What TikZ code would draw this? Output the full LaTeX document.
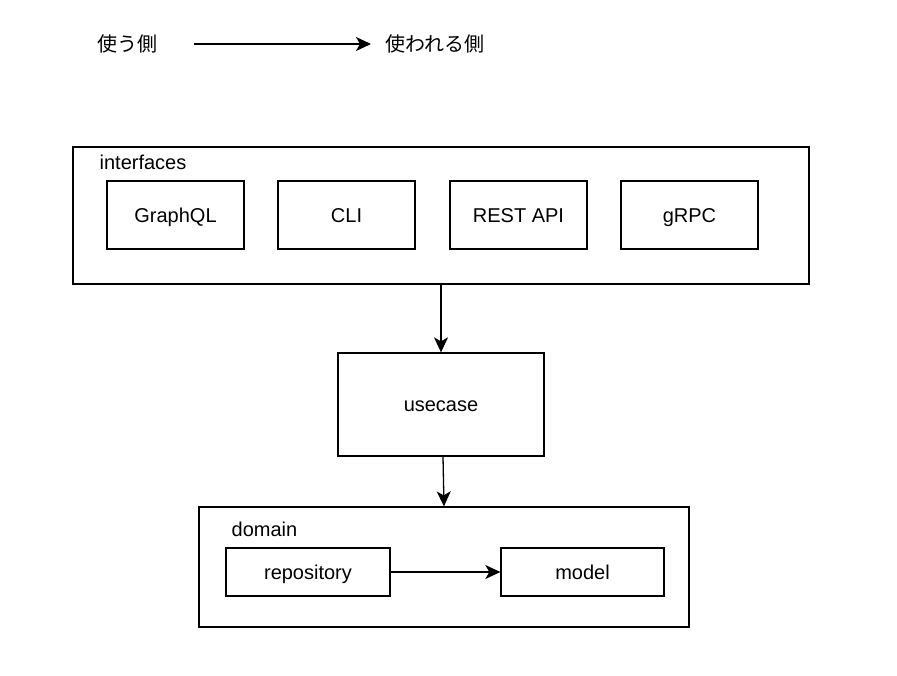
\documentclass[tikz,border=0pt]{standalone}
\usepackage{fontspec}
\setmainfont{Liberation Sans}
\newfontfamily\jpfont{Noto Sans CJK JP}
\usetikzlibrary{arrows.meta,positioning}

\begin{document}
\begin{tikzpicture}[x = 1pt, y = -1pt, line width = 1.3pt,
	every node/.style = {font = \fontsize{20}{24}\selectfont, inner sep = 0pt, text height = 14pt, text depth = 0pt},
	frame/.style = {draw, minimum width = #1},
	part/.style = {draw, minimum width = 137pt, minimum height = 68pt},
	label/.style = {anchor = west},
	uses/.style = {-{Stealth[length = 15pt, width = 14pt, inset = 4pt]}}]
	\useasboundingbox (0,0) rectangle (897,675);
	% legend
	\node[label] (user) at (97,44) {\jpfont 使う側};
	\node[label] (used) at (385,44) {\jpfont 使われる側};
	\draw[uses] ([xshift = 36pt]user.east) -- ([xshift = -14pt]used.west);
	% interfaces
	\node[frame = 736pt, minimum height = 137pt] (interfaces) at (441,215.5) {};
	\node[label] (interfaces label) at (99,162) {interfaces};
	\node[part] (graphql) at (175.5,215) {GraphQL};
	\node[part] (cli) at (346.5,215) {CLI};
	\node[part] (rest) at (518.5,215) {REST API};
	\node[part] (grpc) at (689.5,215) {gRPC};
	% usecase
	\node[frame = 206pt, minimum height = 103pt] (usecase) at (441,404.5) {usecase};
	% domain
	\node[frame = 490pt, minimum height = 120pt] (domain) at (444,567) {};
	\node[label] (domain label) at (231,529) {domain};
	\node[frame = 164pt, minimum height = 48pt] (repository) at (308,572) {repository};
	\node[frame = 163pt, minimum height = 48pt] (model) at (582.5,572) {model};
	\draw[uses] (interfaces.south) -- (usecase.north);
	\draw[uses] ([xshift = 2pt]usecase.south) -- (domain.north);
	\draw[uses] (repository.east) -- (model.west);
\end{tikzpicture}
\end{document}
